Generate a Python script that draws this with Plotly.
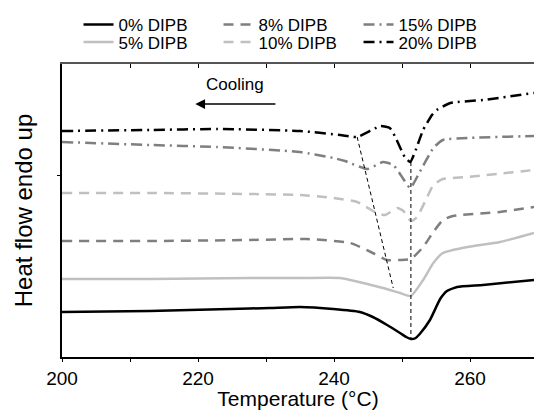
import plotly.graph_objects as go

# Temperature (°C) and heat flow (arbitrary units, endo up)
T_0 = [200, 212.9, 224.7, 230.6, 235.0, 239.9, 243.8, 245.7, 247.8, 249.7, 250.6, 251.3, 252.0, 252.6, 254.1, 255.6, 256.6, 258.1, 261.9, 269.4]
H_0 = [4.5, 4.6, 4.8, 4.9, 5.0, 4.8, 4.5, 4.0, 3.2, 2.4, 2.0, 1.8, 1.9, 2.3, 3.7, 5.8, 6.6, 7.0, 7.2, 7.7]

T_5 = [200, 212.9, 227.6, 235.0, 240.9, 242.4, 244.9, 247.2, 249.7, 251.3, 253.1, 254.6, 256.0, 259.6, 264.4, 269.4]
H_5 = [7.8, 7.8, 7.9, 7.9, 7.9, 7.7, 7.3, 6.9, 6.4, 6.1, 7.7, 9.4, 10.4, 11.0, 11.5, 12.4]

T_8 = [200, 212.9, 227.6, 236.0, 242.4, 245.7, 247.8, 249.7, 251.3, 253.1, 254.6, 256.0, 257.5, 264.4, 269.4]
H_8 = [11.6, 11.6, 11.7, 11.8, 11.4, 10.4, 9.7, 9.7, 9.8, 11.0, 12.5, 13.7, 14.1, 14.5, 15.0]

T_10 = [200, 212.9, 227.6, 235.0, 239.9, 243.4, 246.3, 247.5, 249.3, 250.2, 251.3, 252.2, 253.7, 254.6, 256.0, 259.6, 269.4]
H_10 = [16.4, 16.4, 16.3, 16.2, 15.9, 15.5, 14.4, 14.2, 14.9, 14.6, 13.6, 14.0, 16.0, 17.2, 17.8, 18.0, 18.7]

T_15 = [200, 212.9, 222.8, 235.0, 239.9, 241.6, 244.9, 247.2, 248.7, 250.0, 251.2, 252.6, 254.6, 256.0, 259.6, 269.4]
H_15 = [21.5, 21.2, 21.0, 20.5, 19.9, 19.6, 18.8, 19.5, 19.2, 18.0, 16.9, 18.5, 20.9, 21.7, 21.9, 22.1]

T_20 = [200, 212.9, 222.8, 235.0, 240.9, 243.4, 246.8, 248.2, 249.0, 250.4, 251.2, 251.9, 253.1, 254.4, 255.1, 257.1, 261.9, 269.4]
H_20 = [22.6, 22.7, 22.8, 22.6, 22.2, 22.0, 23.1, 22.9, 22.0, 20.0, 19.5, 20.5, 22.7, 24.2, 24.7, 25.4, 25.7, 26.4]

# guide lines through the crystallisation minima
GUIDE_SLANT_T = [243.4, 248.7]
GUIDE_SLANT_H = [22.0, 6.9]
GUIDE_VERT_T = [251.3, 251.3]
GUIDE_VERT_H = [19.5, 1.8]

X_TICKS = [200, 210, 220, 230, 240, 250, 260, 270]
X_TICKTEXT = ["200", "", "220", "", "240", "", "260", ""]

FONT = "Liberation Sans, Arial, sans-serif"
DARK = "#7f7f7f"
LIGHT = "#c0c0c0"
DASH = "10px,7px"
DASHDOT = "11px,5px,2px,5px"

series = [
    ("0% DIPB", T_0, H_0, "black", "solid", "legend"),
    ("8% DIPB", T_8, H_8, DARK, DASH, "legend"),
    ("15% DIPB", T_15, H_15, DARK, DASHDOT, "legend"),
    ("5% DIPB", T_5, H_5, LIGHT, "solid", "legend2"),
    ("10% DIPB", T_10, H_10, LIGHT, DASH, "legend2"),
    ("20% DIPB", T_20, H_20, "black", DASHDOT, "legend2"),
]

fig = go.Figure()
for name, t, h, col, dash, leg in series:
    fig.add_trace(go.Scatter(x=t, y=h, mode="lines", name=name, legend=leg,
                             line=dict(color=col, width=2.5, dash=dash, shape="spline", smoothing=0.5)))

for t, h in [(GUIDE_SLANT_T, GUIDE_SLANT_H), (GUIDE_VERT_T, GUIDE_VERT_H)]:
    fig.add_trace(go.Scatter(x=t, y=h, mode="lines", showlegend=False,
                             line=dict(color="black", width=1, dash="4px,3px")))

fig.add_annotation(x=219.6, y=25.3, ax=231.6, ay=25.3, xref="x", yref="y", axref="x", ayref="y",
                   text="", showarrow=True, arrowhead=2, arrowsize=1.3, arrowwidth=1.5, arrowcolor="black")
fig.add_annotation(x=225.4, y=27.3, xref="x", yref="y", text="Cooling", showarrow=False,
                   font=dict(size=17, color="black", family=FONT))

leg_common = dict(orientation="h", x=0.035, xanchor="left", yanchor="top",
                  font=dict(size=17, family=FONT), entrywidth=95,
                  bgcolor="rgba(0,0,0,0)")

fig.update_layout(
    width=534, height=410,
    margin=dict(l=62, r=0, t=64, b=53),
    plot_bgcolor="white", paper_bgcolor="white",
    font=dict(family=FONT, color="black"),
    legend=dict(y=1.195, **leg_common),
    legend2=dict(y=1.135, **leg_common),
    xaxis=dict(range=[200, 269.4], tickvals=X_TICKS, ticktext=X_TICKTEXT, automargin=False,
               ticks="outside", ticklen=3, tickwidth=1, tickcolor="black",
               showline=True, linecolor="black", linewidth=1.5, showgrid=False, zeroline=False,
               tickfont=dict(size=19, family=FONT),
               title=dict(text="Temperature (°C)", font=dict(size=21, family=FONT), standoff=9)),
    xaxis2=dict(range=[200, 269.4], overlaying="x", side="top", tickvals=X_TICKS,
                showticklabels=False, ticks="inside", ticklen=4, tickcolor="black",
                showline=True, linecolor="#555555", linewidth=2, showgrid=False, zeroline=False),
    yaxis=dict(range=[0, 29.3], tickvals=[18.2], showticklabels=False, automargin=False,
               ticks="outside", ticklen=3, tickcolor="black",
               showline=True, linecolor="black", linewidth=1.5, showgrid=False, zeroline=False,
               title=dict(text="Heat flow endo up", font=dict(size=24, family=FONT), standoff=18)),
)
fig.add_trace(go.Scatter(x=[200], y=[0], xaxis="x2", mode="markers", marker=dict(opacity=0),
                         showlegend=False, hoverinfo="skip"))

fig.write_html("out.html")
